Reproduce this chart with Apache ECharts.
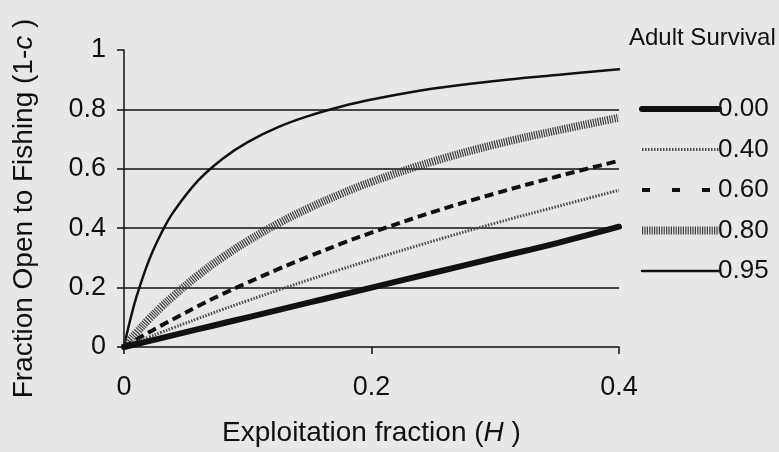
<!DOCTYPE html>
<html>
<head>
<meta charset="utf-8">
<script src="https://cdn.jsdelivr.net/npm/echarts@6/dist/echarts.min.js"></script>
<style>
html,body{margin:0;padding:0;background:#e6e7e9;}
#chart{width:779px;height:452px;}
</style>
</head>
<body>
<div id="chart"></div>
<script>
// Exploitation fraction H (x values)
const H = [0, 0.0025, 0.005, 0.01, 0.02, 0.03, 0.04, 0.06, 0.08, 0.1, 0.125, 0.15, 0.175, 0.2, 0.25, 0.3, 0.35, 0.4];
// Fraction open to fishing (1-c), one array per adult survival level
const s000 = [0, 0.0025, 0.005, 0.01, 0.02, 0.03, 0.04, 0.06, 0.08, 0.1, 0.125, 0.15, 0.175, 0.2, 0.25, 0.3, 0.35, 0.405];
const s040 = [0, 0.004, 0.008, 0.017, 0.033, 0.049, 0.065, 0.096, 0.127, 0.156, 0.192, 0.227, 0.261, 0.294, 0.357, 0.417, 0.473, 0.528];
const s060 = [0, 0.006, 0.012, 0.025, 0.049, 0.072, 0.094, 0.138, 0.179, 0.217, 0.263, 0.306, 0.347, 0.385, 0.455, 0.517, 0.574, 0.627];
const s080 = [0, 0.012, 0.025, 0.048, 0.093, 0.134, 0.172, 0.242, 0.303, 0.357, 0.417, 0.469, 0.515, 0.556, 0.625, 0.682, 0.729, 0.772];
const s095 = [0, 0.048, 0.091, 0.168, 0.290, 0.382, 0.455, 0.561, 0.635, 0.690, 0.741, 0.779, 0.809, 0.833, 0.870, 0.896, 0.916, 0.935];
const seriesNames = ['0.00', '0.40', '0.60', '0.80', '0.95'];
const xTicks = [0, 0.2, 0.4];
const yTicks = [0, 0.2, 0.4, 0.6, 0.8, 1];

const pair = arr => H.map((h, i) => [h, arr[i]]);
const FONT = '"Liberation Sans", Arial, sans-serif';
const INK = '#111';

const styles = [
  {color: INK, width: 6, type: 'solid', cap: 'round'},
  {color: '#4a4a4a', width: 3, type: [1.5, 1.5], cap: 'butt'},
  {color: INK, width: 4, type: [9, 5], cap: 'butt'},
  {color: '#3c3c3c', width: 8, type: [1.2, 1.2], cap: 'butt'},
  {color: INK, width: 2.5, type: 'solid', cap: 'round'}
];
const legendDash = [
  'solid', [1.5, 1.5], [8, 22], [1.2, 1.2], 'solid'
];
const dataArrays = [s000, s040, s060, s080, s095];

const chart = echarts.init(document.getElementById('chart'));
chart.setOption({
  backgroundColor: '#e6e7e9',
  animation: false,
  title: {
    text: 'Adult Survival',
    left: 624, top: 21,
    textStyle: {fontFamily: FONT, fontSize: 24, fontWeight: 'normal', color: INK}
  },
  legend: {
    orient: 'vertical',
    left: 633, top: 91,
    itemWidth: 77, itemHeight: 24, itemGap: 14.5,
    itemStyle: {opacity: 0},
    data: seriesNames.map((n, k) => ({
      name: n,
      lineStyle: {color: styles[k].color, width: styles[k].width, type: legendDash[k], cap: styles[k].cap}
    })),
    textStyle: {fontFamily: FONT, fontSize: 26, color: INK, padding: [0, 0, 0, -6]}
  },
  grid: {left: 124, right: 160, top: 50, bottom: 104},
  xAxis: {
    type: 'value', min: 0, max: 0.4, interval: 0.2,
    name: 'Exploitation fraction ({i|H} )',
    nameLocation: 'middle', nameGap: 72,
    nameTextStyle: {fontFamily: FONT, fontSize: 28, color: INK,
      rich: {i: {fontFamily: FONT, fontSize: 28, fontStyle: 'italic', color: INK}}},
    axisLine: {lineStyle: {color: INK, width: 1.5}},
    axisTick: {length: 7, lineStyle: {color: INK, width: 1.5}},
    axisLabel: {margin: 27, fontFamily: FONT, fontSize: 27, color: INK,
      formatter: v => xTicks.includes(+v.toFixed(2)) ? String(+v.toFixed(2)) : ''},
    splitLine: {show: false}
  },
  yAxis: {
    type: 'value', min: 0, max: 1, interval: 0.2,
    name: 'Fraction Open to Fishing (1-{i|c} )',
    nameLocation: 'middle', nameGap: 86,
    nameTextStyle: {fontFamily: FONT, fontSize: 28, color: INK, padding: [0, 20, 0, 0],
      rich: {i: {fontFamily: FONT, fontSize: 28, fontStyle: 'italic', color: INK}}},
    axisLine: {show: true, lineStyle: {color: INK, width: 1.5}},
    axisTick: {show: true, length: 7, lineStyle: {color: INK, width: 1.5}},
    axisLabel: {margin: 18, fontFamily: FONT, fontSize: 27, color: INK,
      formatter: v => yTicks.includes(+v.toFixed(2)) ? String(+v.toFixed(2)) : ''},
    splitLine: {show: true, showMinLine: false, showMaxLine: false, lineStyle: {color: INK, width: 1.5}}
  },
  series: seriesNames.map((n, k) => ({
    name: n,
    type: 'line',
    data: pair(dataArrays[k]),
    symbol: 'none',
    smooth: 0.4,
    color: styles[k].color,
    lineStyle: {color: styles[k].color, width: styles[k].width, type: styles[k].type, cap: styles[k].cap},
    z: 10 - k
  }))
});
</script>
</body>
</html>
